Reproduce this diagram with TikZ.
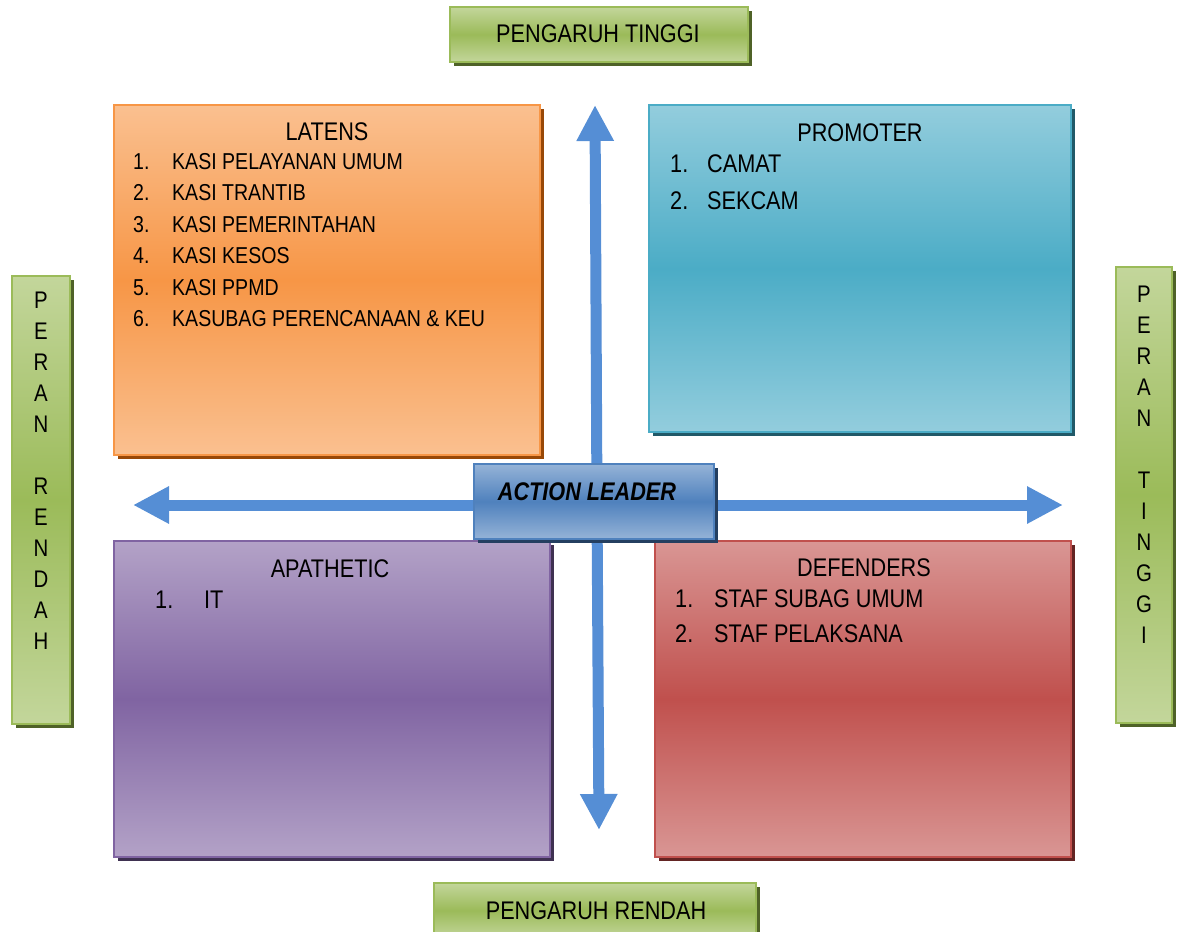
\documentclass[tikz,border=0pt]{standalone}
\usepackage{fontspec}
\setmainfont{Liberation Sans}[FakeStretch=0.85]
\usetikzlibrary{shadows,arrows.meta}

% palette: light / mid / shadow for each panel
\definecolor{grnL}{HTML}{C3D69B}\definecolor{grnM}{HTML}{9BBB59}\definecolor{grnS}{HTML}{4F6228}
\definecolor{orgL}{HTML}{FAC090}\definecolor{orgM}{HTML}{F79646}\definecolor{orgS}{HTML}{984807}
\definecolor{tealL}{HTML}{93CDDD}\definecolor{tealM}{HTML}{4BACC6}\definecolor{tealS}{HTML}{215968}
\definecolor{purL}{HTML}{B3A2C7}\definecolor{purM}{HTML}{8064A2}\definecolor{purS}{HTML}{3F3151}
\definecolor{redL}{HTML}{D99694}\definecolor{redM}{HTML}{C0504D}\definecolor{redS}{HTML}{632423}
\definecolor{bluL}{HTML}{95B3D7}\definecolor{bluM}{HTML}{4F81BD}\definecolor{bluS}{HTML}{243F60}
\definecolor{axisblue}{HTML}{558ED5}

\tikzset{
  panel/.style n args={3}{draw=#2, line width=2pt,
    top color=#1, bottom color=#1, middle color=#2,
    general shadow={fill=#3, shadow xshift=4pt, shadow yshift=-4pt},
    inner sep=0pt},
  lbl/.style={inner sep=0pt, font=\fontsize{25.5}{31}\selectfont},
  small/.style={inner sep=0pt, font=\fontsize{23}{31}\selectfont},
  column/.style={inner sep=0pt, align=center, font=\fontsize{24}{31}\selectfont},
  axis/.style={draw=axisblue, line width=11pt,
    -{Triangle[length=36pt, width=35pt]}},
}

\begin{document}
\begin{tikzpicture}[x=1pt, y=-1pt]
\useasboundingbox (0,0) rectangle (1179,932);

% axis arrows radiating from the centre
\coordinate (hub) at (597,505);
\coordinate (tipN) at (595,105);
\coordinate (tipS) at (599,830);
\coordinate (tipW) at (133,505);
\coordinate (tipE) at (1063,505);
\draw[axis] (hub) -- (tipN);
\draw[axis] (hub) -- (tipS);
\draw[axis] (hub) -- (tipW);
\draw[axis] (hub) -- (tipE);

% axis labels
\node[panel={grnL}{grnM}{grnS}, minimum width=298pt, minimum height=55pt] (hiInf) at (599,34.5) {};
\node[lbl] at (598,34) {PENGARUH TINGGI};
\node[panel={grnL}{grnM}{grnS}, minimum width=322pt, minimum height=55pt] (loInf) at (595,910.5) {};
\node[lbl] at (596,911) {PENGARUH RENDAH};
\node[panel={grnL}{grnM}{grnS}, minimum width=58pt, minimum height=448pt] (loRole) at (41,500) {};
\node[column] at (41,470.5) {P\\E\\R\\A\\N\\[31pt]R\\E\\N\\D\\A\\H};
\node[panel={grnL}{grnM}{grnS}, minimum width=56pt, minimum height=456pt] (hiRole) at (1144,495) {};
\node[column] at (1144,464.5) {P\\E\\R\\A\\N\\[31pt]T\\I\\N\\G\\G\\I};

% quadrants
\node[panel={orgL}{orgM}{orgS}, minimum width=426pt, minimum height=350pt] (latens) at (327,280) {};
\node[lbl, anchor=base] at (327,140) {LATENS};
\foreach \n/\t [count=\i from 0] in {1./KASI PELAYANAN UMUM, 2./KASI TRANTIB, 3./KASI PEMERINTAHAN, 4./KASI KESOS, 5./KASI PPMD, 6./KASUBAG PERENCANAAN \& KEU}{
  \node[small, anchor=base west] at (133,169+31.5*\i) {\n};
  \node[small, anchor=base west] at (172,169+31.5*\i) {\t};
}

\node[panel={tealL}{tealM}{tealS}, minimum width=422pt, minimum height=327pt] (promoter) at (860,268.5) {};
\node[lbl, anchor=base] at (860,141) {PROMOTER};
\node[lbl, anchor=base west] at (670,172) {1.};
\node[lbl, anchor=base west] at (707,172) {CAMAT};
\node[lbl, anchor=base west] at (670,209) {2.};
\node[lbl, anchor=base west] at (707,209) {SEKCAM};

\node[panel={purL}{purM}{purS}, minimum width=436pt, minimum height=316pt] (apathetic) at (332,699) {};
\node[lbl, anchor=base] at (330,577) {APATHETIC};
\node[lbl, anchor=base west] at (155,608) {1.};
\node[lbl, anchor=base west] at (204,608) {IT};

\node[panel={redL}{redM}{redS}, minimum width=416pt, minimum height=316pt] (defenders) at (863,699) {};
\node[lbl, anchor=base] at (864,576) {DEFENDERS};
\node[lbl, anchor=base west] at (675,607) {1.};
\node[lbl, anchor=base west] at (714,607) {STAF SUBAG UMUM};
\node[lbl, anchor=base west] at (675,642) {2.};
\node[lbl, anchor=base west] at (714,642) {STAF PELAKSANA};

% centre box
\node[panel={bluL}{bluM}{bluS}, minimum width=240pt, minimum height=75pt] (leader) at (594,501.5) {};
\node[lbl, font=\fontsize{25.5}{31}\selectfont\bfseries\itshape, anchor=base] at (587,500) {ACTION LEADER};
\end{tikzpicture}
\end{document}
